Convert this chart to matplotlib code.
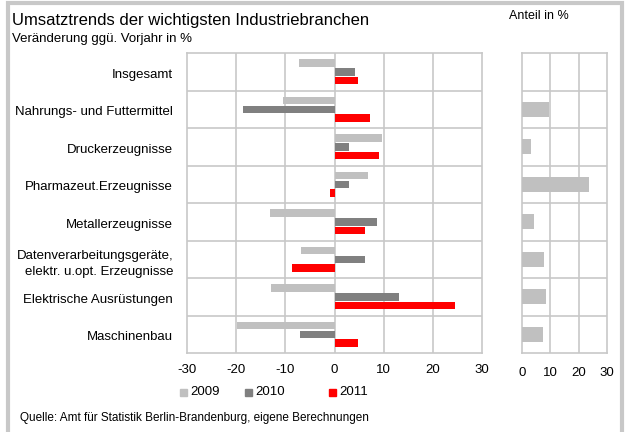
import numpy as np
import matplotlib.pyplot as plt
from matplotlib.patches import Rectangle

plt.rcParams['font.family'] = ['Liberation Sans', 'DejaVu Sans']
plt.rcParams['axes.unicode_minus'] = False

categories = ['Insgesamt', 'Nahrungs- und Futtermittel', 'Druckerzeugnisse',
              'Pharmazeut.Erzeugnisse', 'Metallerzeugnisse',
              'Datenverarbeitungsgeräte,\nelektr. u.opt. Erzeugnisse',
              'Elektrische Ausrüstungen', 'Maschinenbau']
v2009 = [-7.2, -10.4, 9.7, 6.9, -13.2, -6.8, -13.0, -19.9]
v2010 = [4.1, -18.6, 3.0, 3.0, 8.7, 6.2, 13.1, -7.0]
v2011 = [4.8, 7.2, 9.0, -1.0, 6.2, -8.6, 24.5, 4.8]
anteil = [0, 9.4, 3.1, 23.8, 4.2, 7.9, 8.4, 7.4]
years = ['2009', '2010', '2011']
colors = ['#c0c0c0', '#808080', '#ff0000']

W, H = 628, 432
fig = plt.figure(figsize=(W / 100, H / 100), dpi=100)

def px_axes(x0, y0, x1, y1):
    return fig.add_axes([x0 / W, 1 - y1 / H, (x1 - x0) / W, (y1 - y0) / H])

grid_c = '#c8c8c8'
y = np.arange(len(categories))

ax = px_axes(187, 53, 482, 353)
for off, vals, c in zip([-0.235, 0, 0.235], [v2009, v2010, v2011], colors):
    ax.barh(y + off, vals, height=0.2, color=c, zorder=3)
ax.set_xlim(-30, 30)
ax.set_ylim(len(categories) - 0.5, -0.5)
ax.set_xticks(range(-30, 31, 10))
ax.set_yticks(y + 0.04)
ax.set_yticklabels(categories, fontsize=9, linespacing=1.4)
for yy in np.arange(0.5, len(categories) - 1, 1):
    ax.axhline(yy, color=grid_c, lw=1.2, zorder=1)
for xx in range(-20, 30, 10):
    ax.axvline(xx, color=grid_c, lw=1.2, zorder=1)
ax.tick_params(length=0, labelsize=9.5)
ax.tick_params(axis='x', pad=8)
ax.tick_params(axis='y', pad=10)
for s in ax.spines.values():
    s.set_color(grid_c)
    s.set_linewidth(1.2)

ax2 = px_axes(522, 53, 607, 353)
ax2.barh(y, anteil, height=0.4, color=colors[0], zorder=3)
ax2.set_xlim(0, 30)
ax2.set_ylim(len(categories) - 0.5, -0.5)
ax2.set_xticks([0, 10, 20, 30])
ax2.set_yticks([])
for yy in np.arange(0.5, len(categories) - 1, 1):
    ax2.axhline(yy, color=grid_c, lw=1.2, zorder=1)
for xx in [10, 20]:
    ax2.axvline(xx, color=grid_c, lw=1.2, zorder=1)
ax2.tick_params(length=0, labelsize=9.5, pad=10)
for s in ax2.spines.values():
    s.set_color(grid_c)
    s.set_linewidth(1.2)

# legend
for xs, lab, c in zip([180, 245, 329], years, colors):
    fig.patches.append(Rectangle((xs / W, 1 - 396 / H), 7 / W, 7 / H,
                                 transform=fig.transFigure, color=c))
    fig.text((xs + 10) / W, 1 - 392 / H, lab, fontsize=9.5, va='center')

fig.text(12 / W, 1 - 20 / H, 'Umsatztrends der wichtigsten Industriebranchen',
         fontsize=12, va='center')
fig.text(12 / W, 1 - 39 / H, 'Veränderung ggü. Vorjahr in %', fontsize=9.5, va='center')
fig.text(509 / W, 1 - 16 / H, 'Anteil in %', fontsize=9, va='center')
fig.text(20 / W, 1 - 418 / H,
         'Quelle: Amt für Statistik Berlin-Brandenburg, eigene Berechnungen',
         fontsize=8.5, va='center')

fig.patches.append(Rectangle((8 / W, -0.1), 614 / W, 1 - 3 / H + 0.1,
                             transform=fig.transFigure, fill=False,
                             edgecolor='#c8c8c8', lw=3))

fig.savefig('out.png', dpi=100)
